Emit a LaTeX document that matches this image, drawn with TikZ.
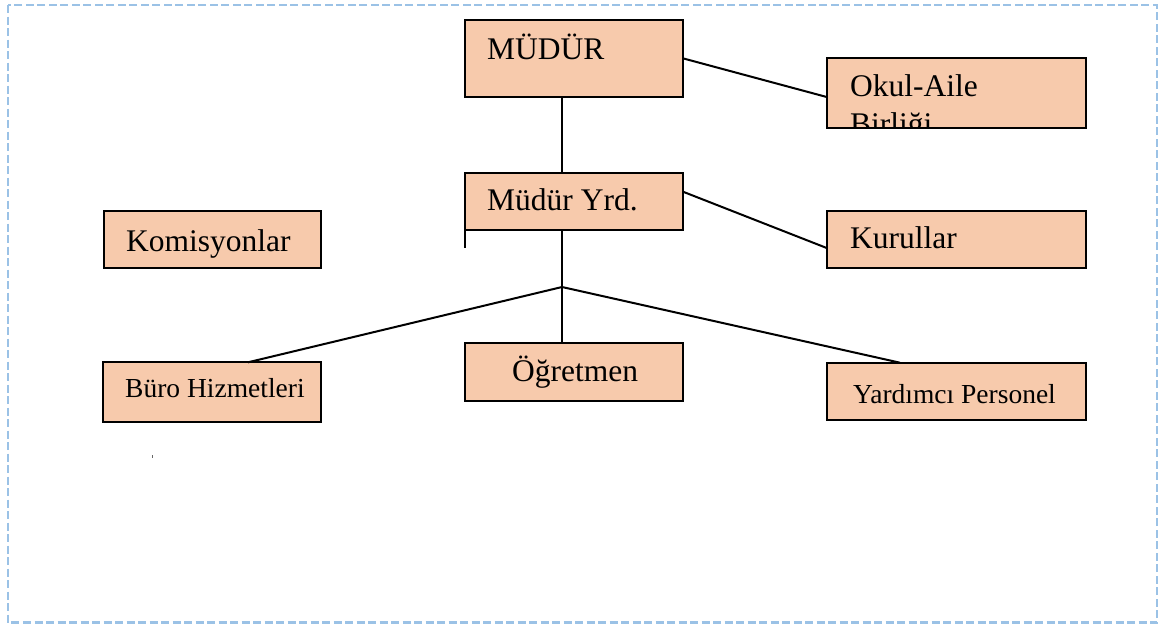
\documentclass[tikz,border=0pt]{standalone}
\usepackage{fontspec}
\setmainfont{Liberation Serif}
\definecolor{boxfill}{RGB}{247,202,172}
\definecolor{frameblue}{RGB}{155,194,230}
\begin{document}
\begin{tikzpicture}[x=1pt, y=-1pt,
  orgbox/.style={draw, fill=boxfill, line width=2pt, inner sep=0pt, outer sep=0pt},
  lbl/.style={anchor=base west, inner sep=0pt, font=\fontsize{31.5}{38}\selectfont},
  lblsmall/.style={anchor=base west, inner sep=0pt, font=\fontsize{27.5}{33}\selectfont},
  link/.style={line width=2pt}]
\useasboundingbox (0,0) rectangle (1163,627);
\draw[frameblue, line width=2.5pt, dash pattern=on 8pt off 3.5pt] (8,5) rectangle (1157,622.5);
\node[orgbox, minimum width=218pt, minimum height=76.7pt] (mudur) at (574,58.35){};
\node[orgbox, minimum width=218pt, minimum height=57.3pt] (yrd) at (574,201.35){};
\node[orgbox, minimum width=259.3pt, minimum height=69.7pt] (okul) at (956.35,93.15){};
\node[orgbox, minimum width=259.3pt, minimum height=57pt] (kurul) at (956.35,239.2){};
\node[orgbox, minimum width=217pt, minimum height=57pt] (komisyon) at (212.5,239){};
\node[orgbox, minimum width=217.7pt, minimum height=59.4pt] (buro) at (212.15,392){};
\node[orgbox, minimum width=218pt, minimum height=58pt] (ogretmen) at (574,371.7){};
\node[orgbox, minimum width=259.3pt, minimum height=57.3pt] (yardimci) at (956.35,391.35){};
\node[lbl] (mudur-t) at (487,59){MÜDÜR};
\node[lbl] (yrd-t) at (487,210){Müdür Yrd.};
\begin{scope}
\clip (okul.south west) rectangle (okul.north east);
\node[lbl] (okul-t) at (850,96){Okul-Aile};
\node[lbl] (okul-t2) at (850,134){Birliği};
\end{scope}
\draw[line width=2pt] (okul.south west) rectangle (okul.north east);
\node[lbl] (kurul-t) at (850,248){Kurullar};
\node[lbl] (komisyon-t) at (126,251){Komisyonlar};
\node[lblsmall] (buro-t) at (125,397){Büro Hizmetleri};
\node[lbl] (ogretmen-t) at (512,381){Öğretmen};
\node[lblsmall] (yardimci-t) at (853,403){Yardımcı Personel};
\coordinate (split) at (562,287);
\draw[link](mudur.east) -- ([yshift=-3.85pt]okul.west);
\draw[link]([yshift=9.65pt]yrd.east) -- ([yshift=-8.8pt]kurul.west);
\draw[link](split |- mudur.south) -- (split |- yrd.north);
\draw[link](split |- yrd.south) -- (split) -- (split |- ogretmen.north);
\draw[link](split) -- ([xshift=35.85pt]buro.north);
\draw[link](split) -- ([xshift=-56.35pt]yardimci.north);
\draw[link](yrd.south west) -- ++(0,18);
\fill[black!60] (151.5,455) rectangle (152.5,458);
\end{tikzpicture}
\end{document}
